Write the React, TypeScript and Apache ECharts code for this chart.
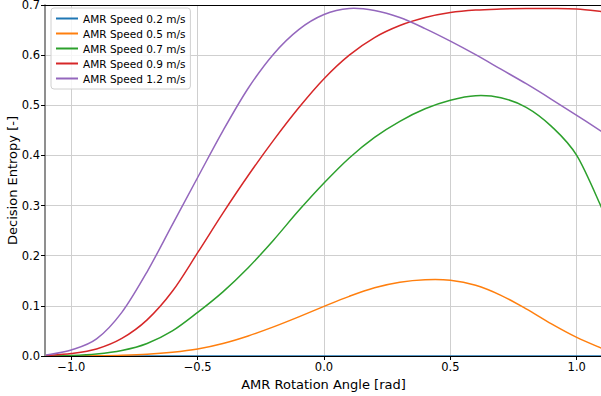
import React, { useEffect, useRef } from "react";
import * as echarts from "echarts";

const angles = [-1.1, -1.0, -0.9, -0.8, -0.7, -0.6, -0.5, -0.4, -0.3, -0.2, -0.1, 0.0, 0.1, 0.2, 0.3, 0.4, 0.5, 0.6, 0.7, 0.8, 0.9, 1.0, 1.1];
const speed02 = [0, 0, 0, 0, 0, 0, 0, 0, 0, 0, 0, 0, 0, 0, 0, 0, 0, 0, 0, 0, 0, 0, 0];
const speed05 = [0.0, 0.0, 0.0005, 0.0015, 0.0035, 0.0075, 0.014, 0.025, 0.04, 0.058, 0.078, 0.099, 0.119, 0.136, 0.147, 0.152, 0.151, 0.141, 0.121, 0.094, 0.064, 0.037, 0.015];
const speed07 = [0.0, 0.001, 0.004, 0.011, 0.025, 0.05, 0.087, 0.128, 0.176, 0.231, 0.29, 0.345, 0.395, 0.436, 0.468, 0.493, 0.51, 0.519, 0.515, 0.496, 0.458, 0.4, 0.294];
const speed09 = [0.001, 0.005, 0.014, 0.035, 0.072, 0.129, 0.206, 0.285, 0.36, 0.43, 0.495, 0.553, 0.6, 0.635, 0.659, 0.675, 0.685, 0.69, 0.692, 0.693, 0.693, 0.692, 0.687];
const speed12 = [0.002, 0.012, 0.034, 0.087, 0.168, 0.262, 0.356, 0.449, 0.534, 0.602, 0.651, 0.681, 0.693, 0.689, 0.675, 0.653, 0.628, 0.601, 0.572, 0.543, 0.512, 0.48, 0.447];

const seriesNames = ["AMR Speed 0.2 m/s", "AMR Speed 0.5 m/s", "AMR Speed 0.7 m/s", "AMR Speed 0.9 m/s", "AMR Speed 1.2 m/s"];
const seriesValues = [speed02, speed05, speed07, speed09, speed12];
const colors = ["#1f77b4", "#ff7f0e", "#2ca02c", "#d62728", "#9467bd"];
const xTicks = [-1.0, -0.5, 0.0, 0.5, 1.0];

const FONT = "DejaVu Sans";

function smoothPath(pts: number[][]): string {
  const n = pts.length;
  let d = `M${pts[0][0]},${pts[0][1]}`;
  for (let i = 0; i < n - 1; i++) {
    const p0 = pts[Math.max(0, i - 1)];
    const p1 = pts[i];
    const p2 = pts[i + 1];
    const p3 = pts[Math.min(n - 1, i + 2)];
    const c1x = p1[0] + (p2[0] - p0[0]) / 6;
    const c1y = p1[1] + (p2[1] - p0[1]) / 6;
    const c2x = p2[0] - (p3[0] - p1[0]) / 6;
    const c2y = p2[1] - (p3[1] - p1[1]) / 6;
    d += ` C${c1x},${c1y} ${c2x},${c2y} ${p2[0]},${p2[1]}`;
  }
  return d;
}

export default function App() {
  const ref = useRef<HTMLDivElement>(null);
  useEffect(() => {
    if (!ref.current) return;
    const chart = echarts.init(ref.current, null, { renderer: "svg" });
    chart.setOption({
      animation: false,
      color: colors,
      textStyle: { fontFamily: FONT },
      grid: { left: 45, right: -1, top: 5, bottom: 40, containLabel: false, outerBoundsMode: "none" },
      legend: {
        orient: "vertical",
        left: 51,
        top: 8,
        itemWidth: 22,
        itemHeight: 2,
        itemGap: 4,
        padding: [5, 5, 5, 5],
        backgroundColor: "rgba(255,255,255,0.8)",
        borderColor: "#d0d0d0",
        borderWidth: 1,
        borderRadius: 3,
        textStyle: { fontFamily: FONT, fontSize: 10.5, color: "#000" },
        data: seriesNames.map((n, i) => ({ name: n, icon: "rect", itemStyle: { color: colors[i] } })),
      },
      xAxis: [
        {
          type: "value",
          min: -1.104,
          max: 1.1,
          name: "AMR Rotation Angle [rad]",
          nameLocation: "middle",
          nameGap: 22,
          nameMoveOverlap: false,
          nameTextStyle: { fontFamily: FONT, fontSize: 13, color: "#000" },
          axisLine: { show: true, onZero: false, lineStyle: { color: "#000", width: 1 } },
          axisTick: { show: true, length: 4, lineStyle: { color: "#000" }, customValues: xTicks },
          axisLabel: {
            customValues: xTicks,
            fontFamily: FONT,
            fontSize: 11.5,
            color: "#000",
            margin: 5,
            formatter: (v: number) => v.toFixed(1).replace("-", "\u2212"),
          },
          splitLine: { show: true, lineStyle: { color: "#cfcfcf", width: 1 } },
        },
        {
          type: "value",
          position: "top",
          min: -1.104,
          max: 1.1,
          axisLine: { show: true, onZero: false, lineStyle: { color: "#000", width: 1 } },
          axisTick: { show: false },
          axisLabel: { show: false },
          splitLine: { show: false },
        },
      ],
      yAxis: {
        type: "value",
        min: 0,
        max: 0.7,
        interval: 0.1,
        name: "Decision Entropy [-]",
        nameLocation: "middle",
        nameGap: 26,
        nameMoveOverlap: false,
        nameTextStyle: { fontFamily: FONT, fontSize: 13, color: "#000" },
        axisLine: { show: true, onZero: false, lineStyle: { color: "#6a6a6a", width: 1.5 } },
        axisTick: { show: true, length: 4, lineStyle: { color: "#000" } },
        axisLabel: {
          fontFamily: FONT,
          fontSize: 11.5,
          color: "#000",
          margin: 5,
          formatter: (v: number) => v.toFixed(1),
        },
        splitLine: { show: true, lineStyle: { color: "#cfcfcf", width: 1 } },
      },
      series: seriesNames.map((name, i) => ({
        name,
        type: "custom",
        xAxisIndex: 0,
        clip: true,
        encode: { x: 0, y: 1 },
        itemStyle: { color: colors[i] },
        z: 2 + i,
        data: angles.map((a, j) => [a, seriesValues[i][j]]),
        renderItem: (params: any, api: any) => {
          if (params.dataIndex !== 0) return null;
          const pts = angles.map((a, j) => api.coord([a, seriesValues[i][j]]));
          return {
            type: "path",
            shape: { pathData: smoothPath(pts) },
            style: { fill: "none", stroke: colors[i], lineWidth: 1.5 },
            silent: true,
          };
        },
      })),
    });
    return () => chart.dispose();
  }, []);
  return <div ref={ref} style={{ width: 601, height: 396, position: "absolute", left: 0, top: 0 }} />;
}
